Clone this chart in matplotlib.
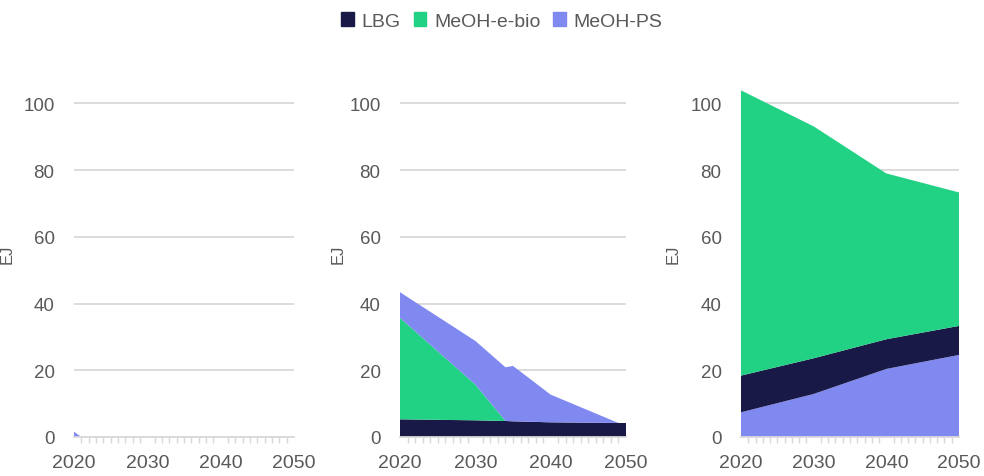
import numpy as np
import matplotlib.pyplot as plt
from matplotlib.patches import Patch

plt.rcParams['font.family'] = ['Liberation Sans', 'DejaVu Sans']

series_names = ['LBG', 'MeOH-e-bio', 'MeOH-PS']
colors = {'LBG': '#191947', 'MeOH-e-bio': '#21d184', 'MeOH-PS': '#8089f0'}

# panel 1: only a small MeOH-PS amount at the start
years_1 = [2020, 2021, 2050]
ps_1 = [1.6, 0.0, 0.0]

# panel 2
years_2 = [2020, 2030, 2034, 2035, 2040, 2049, 2050]
lbg_2 = [5.3, 5.0, 4.8, 4.7, 4.4, 4.2, 4.2]
ebio_2 = [30.4, 10.7, 0.0, 0.0, 0.0, 0.0, 0.0]
ps_2 = [7.7, 13.1, 16.1, 16.6, 8.3, 0.0, 0.0]

# panel 3
years_3 = [2020, 2030, 2040, 2050]
ps_3 = [7.4, 12.9, 20.4, 24.6]
lbg_3 = [11.0, 10.7, 8.9, 8.7]
ebio_3 = [85.5, 69.5, 49.7, 40.0]

year_ticks = [2020, 2030, 2040, 2050]
y_ticks = [0, 20, 40, 60, 80, 100]

grey = '#d9d9d9'
text_col = '#595959'

fig = plt.figure(figsize=(9.84, 4.77), dpi=100)
boxes = [(74, 220), (400, 226), (741, 218)]
axes = []
for left, width in boxes:
    ax = fig.add_axes([left / 984, 39 / 477, width / 984, 367 / 477])
    axes.append(ax)

ax1, ax2, ax3 = axes
ax1.stackplot(years_1, ps_1, colors=[colors['MeOH-PS']], lw=0)
ax2.stackplot(years_2, lbg_2, ebio_2, ps_2,
              colors=[colors['LBG'], colors['MeOH-e-bio'], colors['MeOH-PS']], lw=0)
ax3.stackplot(years_3, ps_3, lbg_3, ebio_3,
              colors=[colors['MeOH-PS'], colors['LBG'], colors['MeOH-e-bio']], lw=0)

label_x = [-59 / 220, -54 / 226, -60 / 218]
for ax, lx in zip(axes, label_x):
    ax.set_xlim(2020, 2050)
    ax.set_ylim(0, 110)
    ax.set_yticks(y_ticks)
    ax.set_xticks(year_ticks)
    ax.set_xticks(np.arange(2020, 2051), minor=True)
    ax.set_axisbelow(True)
    ax.grid(axis='y', color=grey, lw=1.3)
    for s in ['top', 'right', 'left']:
        ax.spines[s].set_visible(False)
    ax.spines['bottom'].set_color(grey)
    ax.spines['bottom'].set_linewidth(1.3)
    ax.spines['bottom'].set_zorder(3)
    ax.tick_params(axis='y', length=0, pad=14, labelsize=13.5, labelcolor=text_col)
    ax.tick_params(axis='x', which='major', length=0, pad=12, labelsize=14,
                   labelcolor=text_col)
    ax.tick_params(axis='x', which='minor', length=4, width=1, color=grey)
    ax.set_ylabel('EJ', fontsize=12, color=text_col)
    ax.yaxis.set_label_coords(lx, 0.5)

handles = [Patch(color=colors[n], label=n) for n in series_names]
fig.legend(handles=handles, loc='center', bbox_to_anchor=(0.51, 1 - 22 / 477),
           ncol=3, frameon=False, fontsize=14, labelcolor=text_col,
           handlelength=0.65, handleheight=0.7, handletextpad=0.4, columnspacing=0.65)

fig.savefig('out.png', dpi=100)
